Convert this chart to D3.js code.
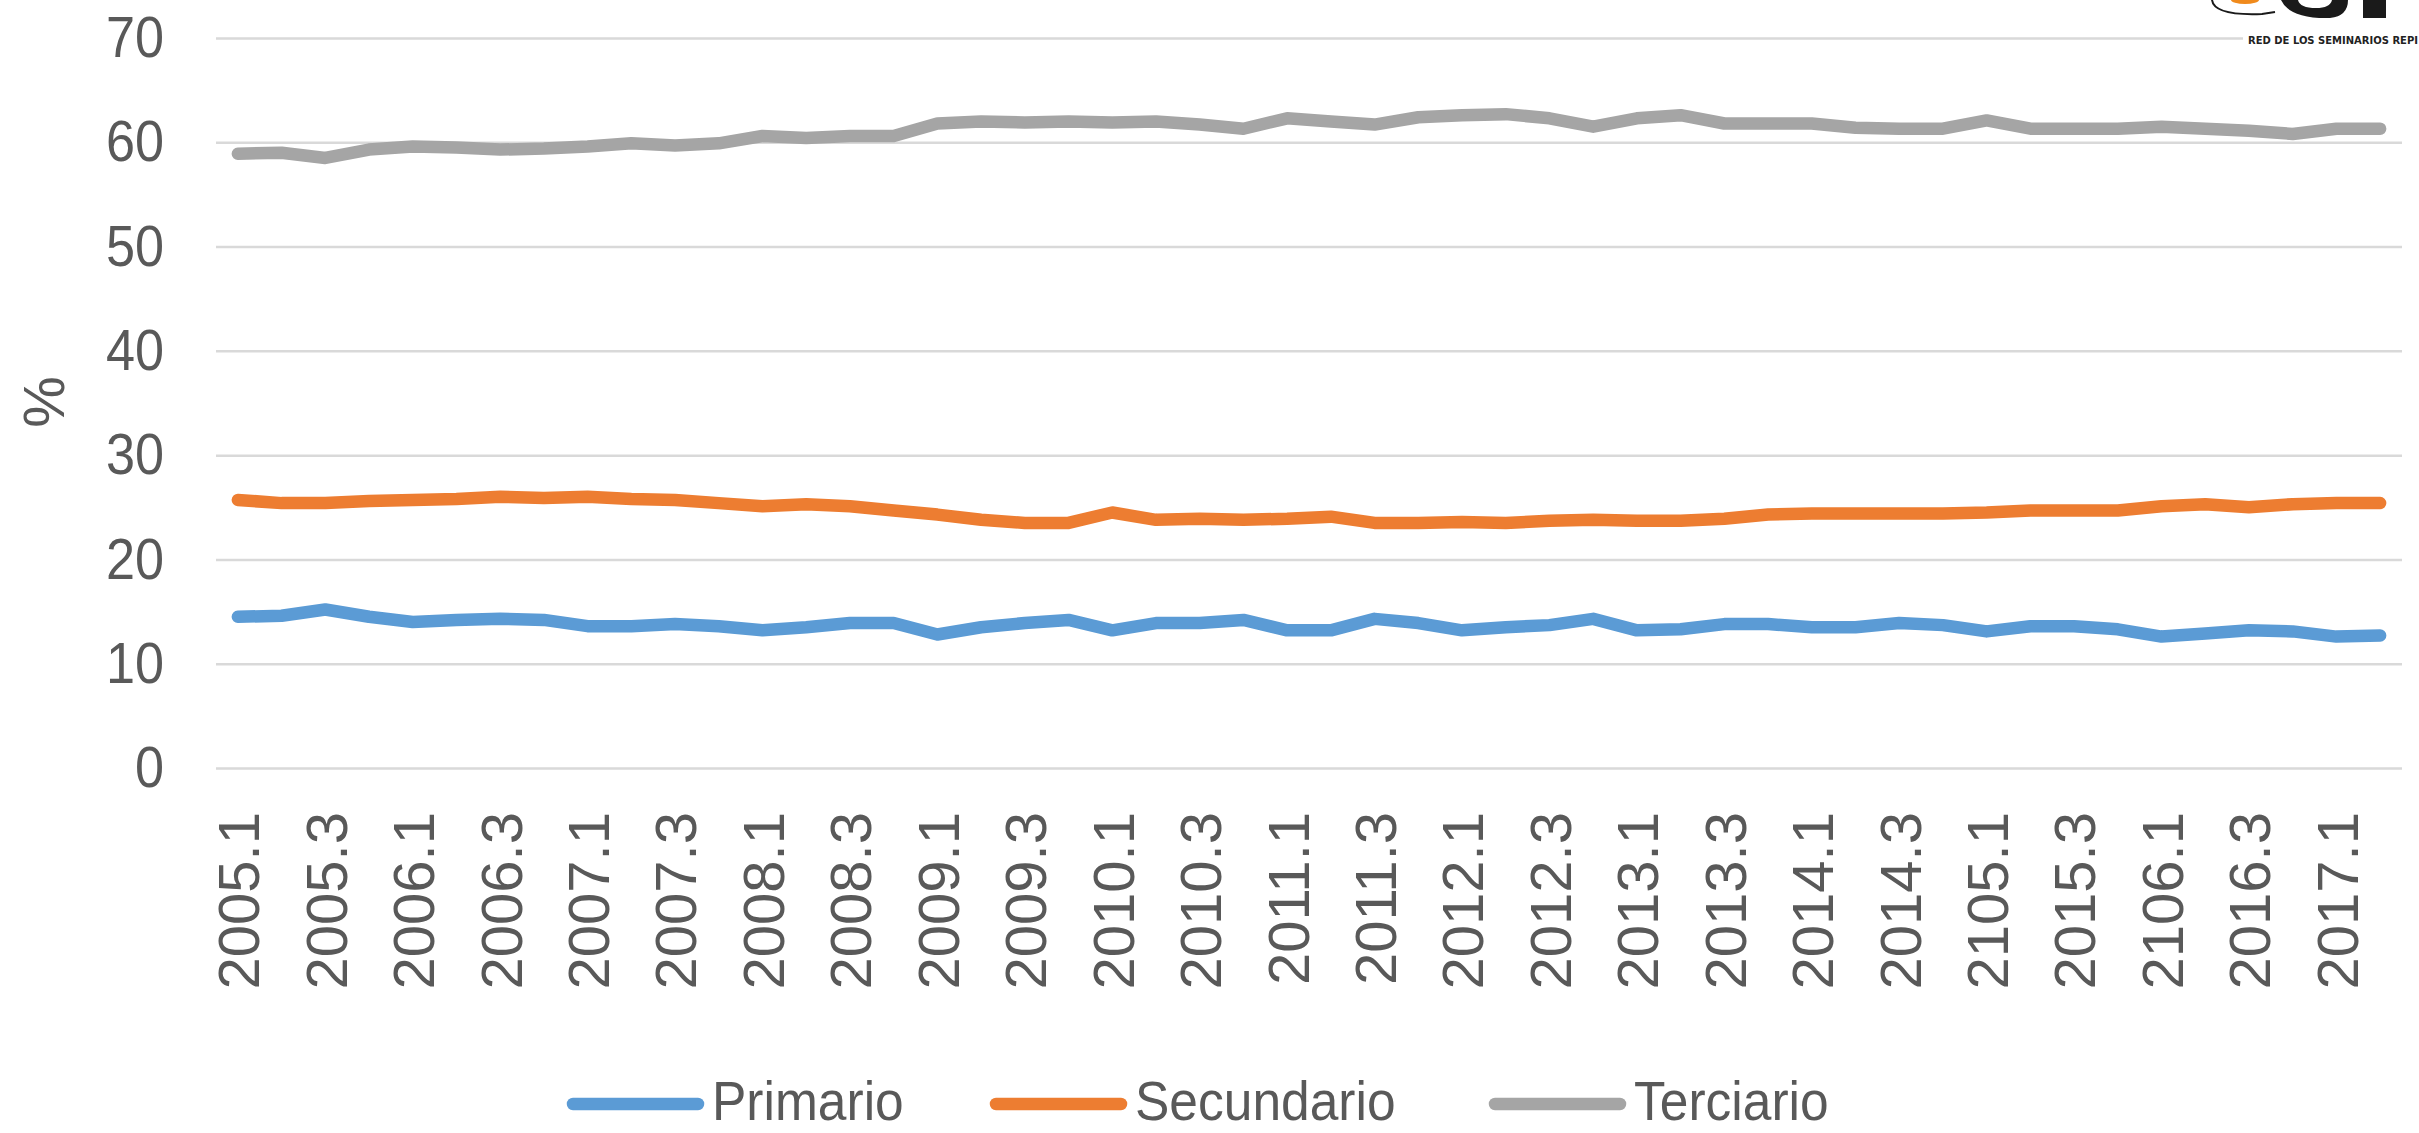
<!DOCTYPE html>
<html>
<head>
<meta charset="utf-8">
<script src="https://cdn.jsdelivr.net/npm/d3@7"></script>
<style>
  body { margin: 0; background: #fff; }
  svg { display: block; }
  .tick text { fill: #595959; }
</style>
</head>
<body>
<script>
// quarters, only every other one gets a label (same as the source chart)
const categories = [
  "2005.1", "2005.2", "2005.3", "2005.4", "2006.1", "2006.2", "2006.3", "2006.4",
  "2007.1", "2007.2", "2007.3", "2007.4", "2008.1", "2008.2", "2008.3", "2008.4",
  "2009.1", "2009.2", "2009.3", "2009.4", "2010.1", "2010.2", "2010.3", "2010.4",
  "2011.1", "2011.2", "2011.3", "2011.4", "2012.1", "2012.2", "2012.3", "2012.4",
  "2013.1", "2013.2", "2013.3", "2013.4", "2014.1", "2014.2", "2014.3", "2014.4",
  "2105.1", "2015.2", "2015.3", "2015.4", "2106.1", "2016.2", "2016.3", "2016.4",
  "2017.1", "2017.2"
];

const primario = [
  14.5, 14.6, 15.2, 14.5, 14.0, 14.2, 14.3, 14.2, 13.6, 13.6,
  13.8, 13.6, 13.2, 13.5, 13.9, 13.9, 12.8, 13.5, 13.9, 14.2,
  13.2, 13.9, 13.9, 14.2, 13.2, 13.2, 14.3, 13.9, 13.2, 13.5,
  13.7, 14.3, 13.2, 13.3, 13.8, 13.8, 13.5, 13.5, 13.9, 13.7,
  13.1, 13.6, 13.6, 13.3, 12.6, 12.9, 13.2, 13.1, 12.6, 12.7
];

const secundario = [
  25.7, 25.4, 25.4, 25.6, 25.7, 25.8, 26.0, 25.9, 26.0, 25.8,
  25.7, 25.4, 25.1, 25.3, 25.1, 24.7, 24.3, 23.8, 23.5, 23.5,
  24.5, 23.8, 23.9, 23.8, 23.9, 24.1, 23.5, 23.5, 23.6, 23.5,
  23.7, 23.8, 23.7, 23.7, 23.9, 24.3, 24.4, 24.4, 24.4, 24.4,
  24.5, 24.7, 24.7, 24.7, 25.1, 25.3, 25.0, 25.3, 25.4, 25.4
];

const terciario = [
  58.9, 59.0, 58.5, 59.3, 59.6, 59.5, 59.3, 59.4, 59.6, 59.9,
  59.7, 59.9, 60.6, 60.4, 60.6, 60.6, 61.8, 62.0, 61.9, 62.0,
  61.9, 62.0, 61.7, 61.3, 62.3, 62.0, 61.7, 62.4, 62.6, 62.7,
  62.3, 61.5, 62.3, 62.6, 61.8, 61.8, 61.8, 61.4, 61.3, 61.3,
  62.1, 61.3, 61.3, 61.3, 61.5, 61.3, 61.1, 60.8, 61.3, 61.3
];

const seriesNames = ["Primario", "Secundario", "Terciario"];
const seriesColors = ["#5b9bd5", "#ed7d31", "#a5a5a5"];
const yTicks = [0, 10, 20, 30, 40, 50, 60, 70];

const width = 2419,
  height = 1133;
const plot = { left: 216, right: 2402, top: 38, bottom: 768 };
const labelFont = "'Liberation Sans Narrow', 'Liberation Sans', Arial, sans-serif";

const svg = d3
  .select("body")
  .append("svg")
  .attr("width", width)
  .attr("height", height);

svg.append("rect").attr("width", width).attr("height", height).attr("fill", "#fff");

const x = d3
  .scalePoint()
  .domain(categories)
  .range([plot.left, plot.right])
  .padding(0.5);

const y = d3.scaleLinear().domain([0, 70]).range([plot.bottom, plot.top]);

// y axis + gridlines
const yAxis = svg
  .append("g")
  .attr("transform", `translate(${plot.left},0)`)
  .call(
    d3
      .axisLeft(y)
      .tickValues(yTicks)
      .tickSize(-(plot.right - plot.left))
      .tickPadding(52)
  );
yAxis.select(".domain").remove();
yAxis.selectAll(".tick line").attr("stroke", "#d9d9d9").attr("stroke-width", 2.5);
// narrow the digits a little, the source font is condensed
yAxis
  .selectAll(".tick text")
  .attr("x", -52 / 0.9)
  .attr("transform", "scale(0.9,1)")
  .style("font-family", labelFont)
  .style("font-size", "58px");

// x axis, rotated labels
const xAxis = svg
  .append("g")
  .attr("transform", `translate(0,${plot.bottom})`)
  .call(
    d3
      .axisBottom(x)
      .tickValues(categories.filter((d, i) => i % 2 === 0))
      .tickSize(0)
  );
xAxis.select(".domain").remove();
xAxis
  .selectAll(".tick text")
  .attr("transform", "rotate(-90)")
  .attr("x", -44)
  .attr("y", 0)
  .attr("dy", "0.36em")
  .attr("text-anchor", "end")
  .style("font-family", "'Liberation Sans', Arial, sans-serif")
  .style("font-size", "58px");

// axis title
svg
  .append("text")
  .attr("transform", "translate(43,402) rotate(-90)")
  .attr("text-anchor", "middle")
  .attr("dy", "0.36em")
  .attr("fill", "#595959")
  .style("font-family", labelFont)
  .style("font-size", "58px")
  .text("%");

// lines
const line = d3
  .line()
  .x((d, i) => x(categories[i]))
  .y((d) => y(d));

[primario, secundario, terciario].forEach((vals, k) => {
  svg
    .append("path")
    .datum(vals)
    .attr("fill", "none")
    .attr("stroke", seriesColors[k])
    .attr("stroke-width", 12.5)
    .attr("stroke-linejoin", "round")
    .attr("stroke-linecap", "round")
    .attr("d", line);
});

// legend
const legendX = [567, 990, 1489];
const legend = svg
  .selectAll("g.legend")
  .data(seriesNames)
  .join("g")
  .attr("class", "legend")
  .attr("transform", (d, i) => `translate(${legendX[i]},1104)`);

legend
  .append("line")
  .attr("x1", 6)
  .attr("x2", 131)
  .attr("stroke", (d, i) => seriesColors[i])
  .attr("stroke-width", 12.5)
  .attr("stroke-linecap", "round");

legend
  .append("text")
  .attr("x", 145 / 0.92)
  .attr("y", 16)
  .attr("transform", "scale(0.92,1)")
  .attr("fill", "#595959")
  .style("font-family", labelFont)
  .style("font-size", "56px")
  .text((d) => d);

// logo, cut off at the top right corner
const logo = svg.append("g");
logo.append("rect").attr("x", 2243).attr("y", 30).attr("width", 176).attr("height", 16).attr("fill", "#fff");
logo
  .append("path")
  .attr("d", "M2212,0 Q2214,16 2262,14 L2275,12")
  .attr("fill", "none")
  .attr("stroke", "#1a1a1a")
  .attr("stroke-width", 2);
logo.append("ellipse").attr("cx", 2245).attr("cy", 0).attr("rx", 14).attr("ry", 4).attr("fill", "#f08a1c");
logo
  .append("path")
  .attr("d", "M2281,0 Q2290,19 2330,18 Q2348,16 2348,0 L2332,0 Q2330,8 2316,8 Q2300,8 2298,0 Z")
  .attr("fill", "#1a1a1a");
logo.append("rect").attr("x", 2363).attr("y", 0).attr("width", 23).attr("height", 18).attr("fill", "#1a1a1a");
logo
  .append("text")
  .attr("x", 2248)
  .attr("y", 44)
  .attr("textLength", 170)
  .attr("lengthAdjust", "spacingAndGlyphs")
  .attr("fill", "#222")
  .style("font-family", "'DejaVu Sans Condensed', 'DejaVu Sans', sans-serif")
  .style("font-weight", "bold")
  .style("font-size", "10px")
  .text("RED DE LOS SEMINARIOS REPI");
</script>
</body>
</html>
